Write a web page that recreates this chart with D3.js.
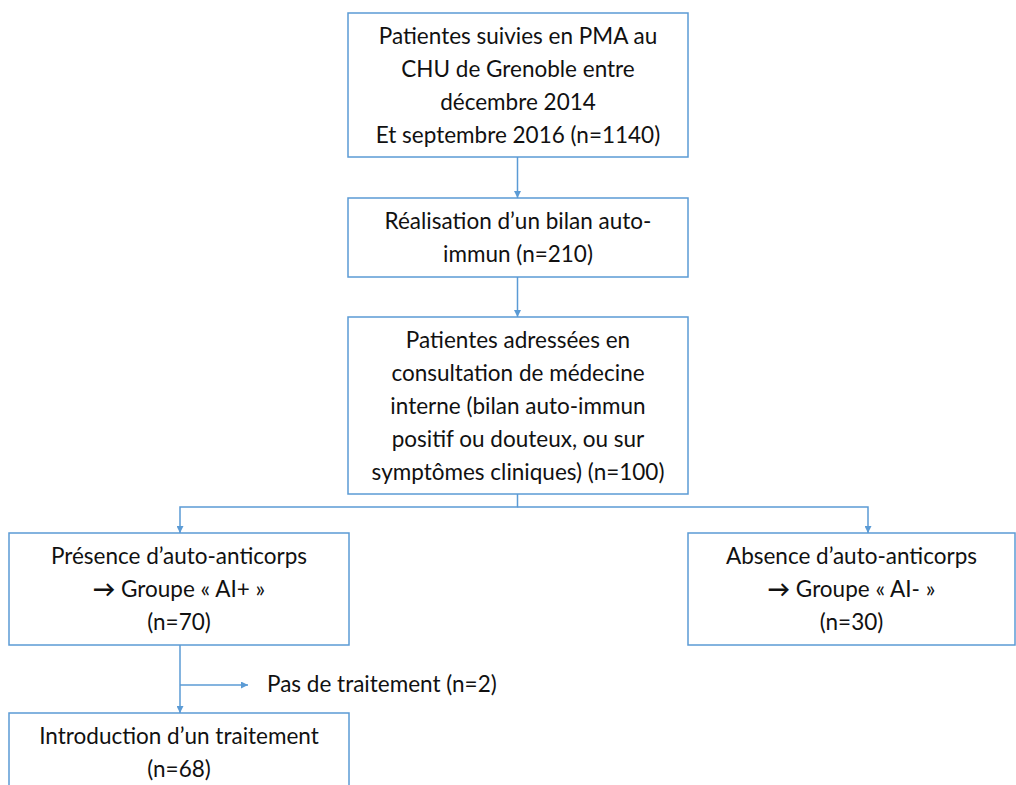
<!DOCTYPE html>
<html>
<head>
<meta charset="utf-8">
<script src="https://cdn.jsdelivr.net/npm/d3@7"></script>
<style>
  body { margin: 0; background: #fff; }
  text { font-family: Lato, "Open Sans", sans-serif; fill: #111; }
</style>
</head>
<body>
<div id="chart"></div>
<script>
var width = 1016;
var height = 785;

// box texts, one array of lines per box
var nodeIds = ['inclus', 'bilan', 'adressees', 'aiPos', 'aiNeg', 'traite'];
var nodeLines = [
  ['Patientes suivies en PMA au', 'CHU de Grenoble entre', 'décembre 2014', 'Et septembre 2016 (n=1140)'],
  ['Réalisation d’un bilan auto-', 'immun (n=210)'],
  ['Patientes adressées en', 'consultation de médecine', 'interne (bilan auto-immun', 'positif ou douteux, ou sur', 'symptômes cliniques) (n=100)'],
  ['Présence d’auto-anticorps', '→ Groupe « AI+ »', '(n=70)'],
  ['Absence d’auto-anticorps', '→ Groupe « AI- »', '(n=30)'],
  ['Introduction d’un traitement', '(n=68)']
];
var sideLabel = 'Pas de traitement (n=2)';

// layout (pixel boxes: x0, y0, x1, y1)
var layout = {
  inclus:    [348, 13, 688, 157],
  bilan:     [348, 198, 688, 277],
  adressees: [348, 317, 688, 494],
  aiPos:     [9, 533, 349, 645],
  aiNeg:     [688, 533, 1015, 645],
  traite:    [9, 713, 349, 791]
};

var lineH = 33;
var fontSize = '22.5px';
var blue = '#5b9bd5';

var svg = d3.select('#chart').append('svg')
  .attr('width', width).attr('height', height);

svg.append('defs').append('marker')
  .attr('id', 'arrow')
  .attr('viewBox', '0 0 10 10')
  .attr('refX', 10).attr('refY', 5)
  .attr('markerWidth', 7).attr('markerHeight', 7)
  .attr('markerUnits', 'userSpaceOnUse')
  .attr('orient', 'auto')
  .append('path')
  .attr('d', 'M0,0 L10,5 L0,10 z')
  .attr('fill', blue);

var nodes = nodeIds.map(function(id, i){
  var b = layout[id];
  return {id: id, lines: nodeLines[i], x0: b[0], y0: b[1], x1: b[2], y1: b[3]};
});

var g = svg.selectAll('g.node').data(nodes).enter().append('g').attr('class', 'node');

g.append('rect')
  .attr('x', function(d){ return d.x0; })
  .attr('y', function(d){ return d.y0; })
  .attr('width', function(d){ return d.x1 - d.x0; })
  .attr('height', function(d){ return d.y1 - d.y0; })
  .attr('fill', '#fff')
  .attr('stroke', blue)
  .attr('stroke-width', 1.5);

g.each(function(d){
  var cx = (d.x0 + d.x1) / 2;
  var cy = (d.y0 + d.y1) / 2;
  var first = cy - (d.lines.length - 1) * lineH / 2;
  var t = d3.select(this).selectAll('text').data(d.lines).enter().append('text')
    .attr('x', cx)
    .attr('y', function(t, j){ return first + j * lineH + 8; })
    .attr('text-anchor', 'middle')
    .attr('font-size', fontSize);
  t.each(function(line){
    var el = d3.select(this);
    if (line.charAt(0) === '→') {
      el.append('tspan').attr('font-weight', 'bold').text('→');
      el.append('tspan').text(line.slice(1));
    } else {
      el.text(line);
    }
  });
});

var midX = function(id){ var b = layout[id]; return (b[0] + b[2]) / 2; };
var topY = function(id){ return layout[id][1]; };
var botY = function(id){ return layout[id][3]; };

var xMain = midX('inclus') - 0.5;
var xLeft = 180, xRight = 868, yFork = 507, ySide = 685;

var links = [
  [[xMain, botY('inclus')], [xMain, topY('bilan')]],
  [[xMain, botY('bilan')], [xMain, topY('adressees')]],
  [[xMain, botY('adressees')], [xMain, yFork], [xLeft, yFork], [xLeft, topY('aiPos')]],
  [[xMain, yFork], [xRight, yFork], [xRight, topY('aiNeg')]],
  [[xLeft, botY('aiPos')], [xLeft, topY('traite')]],
  [[xLeft, ySide], [248, ySide]]
];

svg.selectAll('path.link').data(links).enter().append('path')
  .attr('class', 'link')
  .attr('d', d3.line())
  .attr('fill', 'none')
  .attr('stroke', blue)
  .attr('stroke-width', 1.5)
  .attr('marker-end', 'url(#arrow)');

svg.append('text')
  .attr('x', 267).attr('y', ySide + 7)
  .attr('font-size', fontSize)
  .text(sideLabel);
</script>
</body>
</html>
